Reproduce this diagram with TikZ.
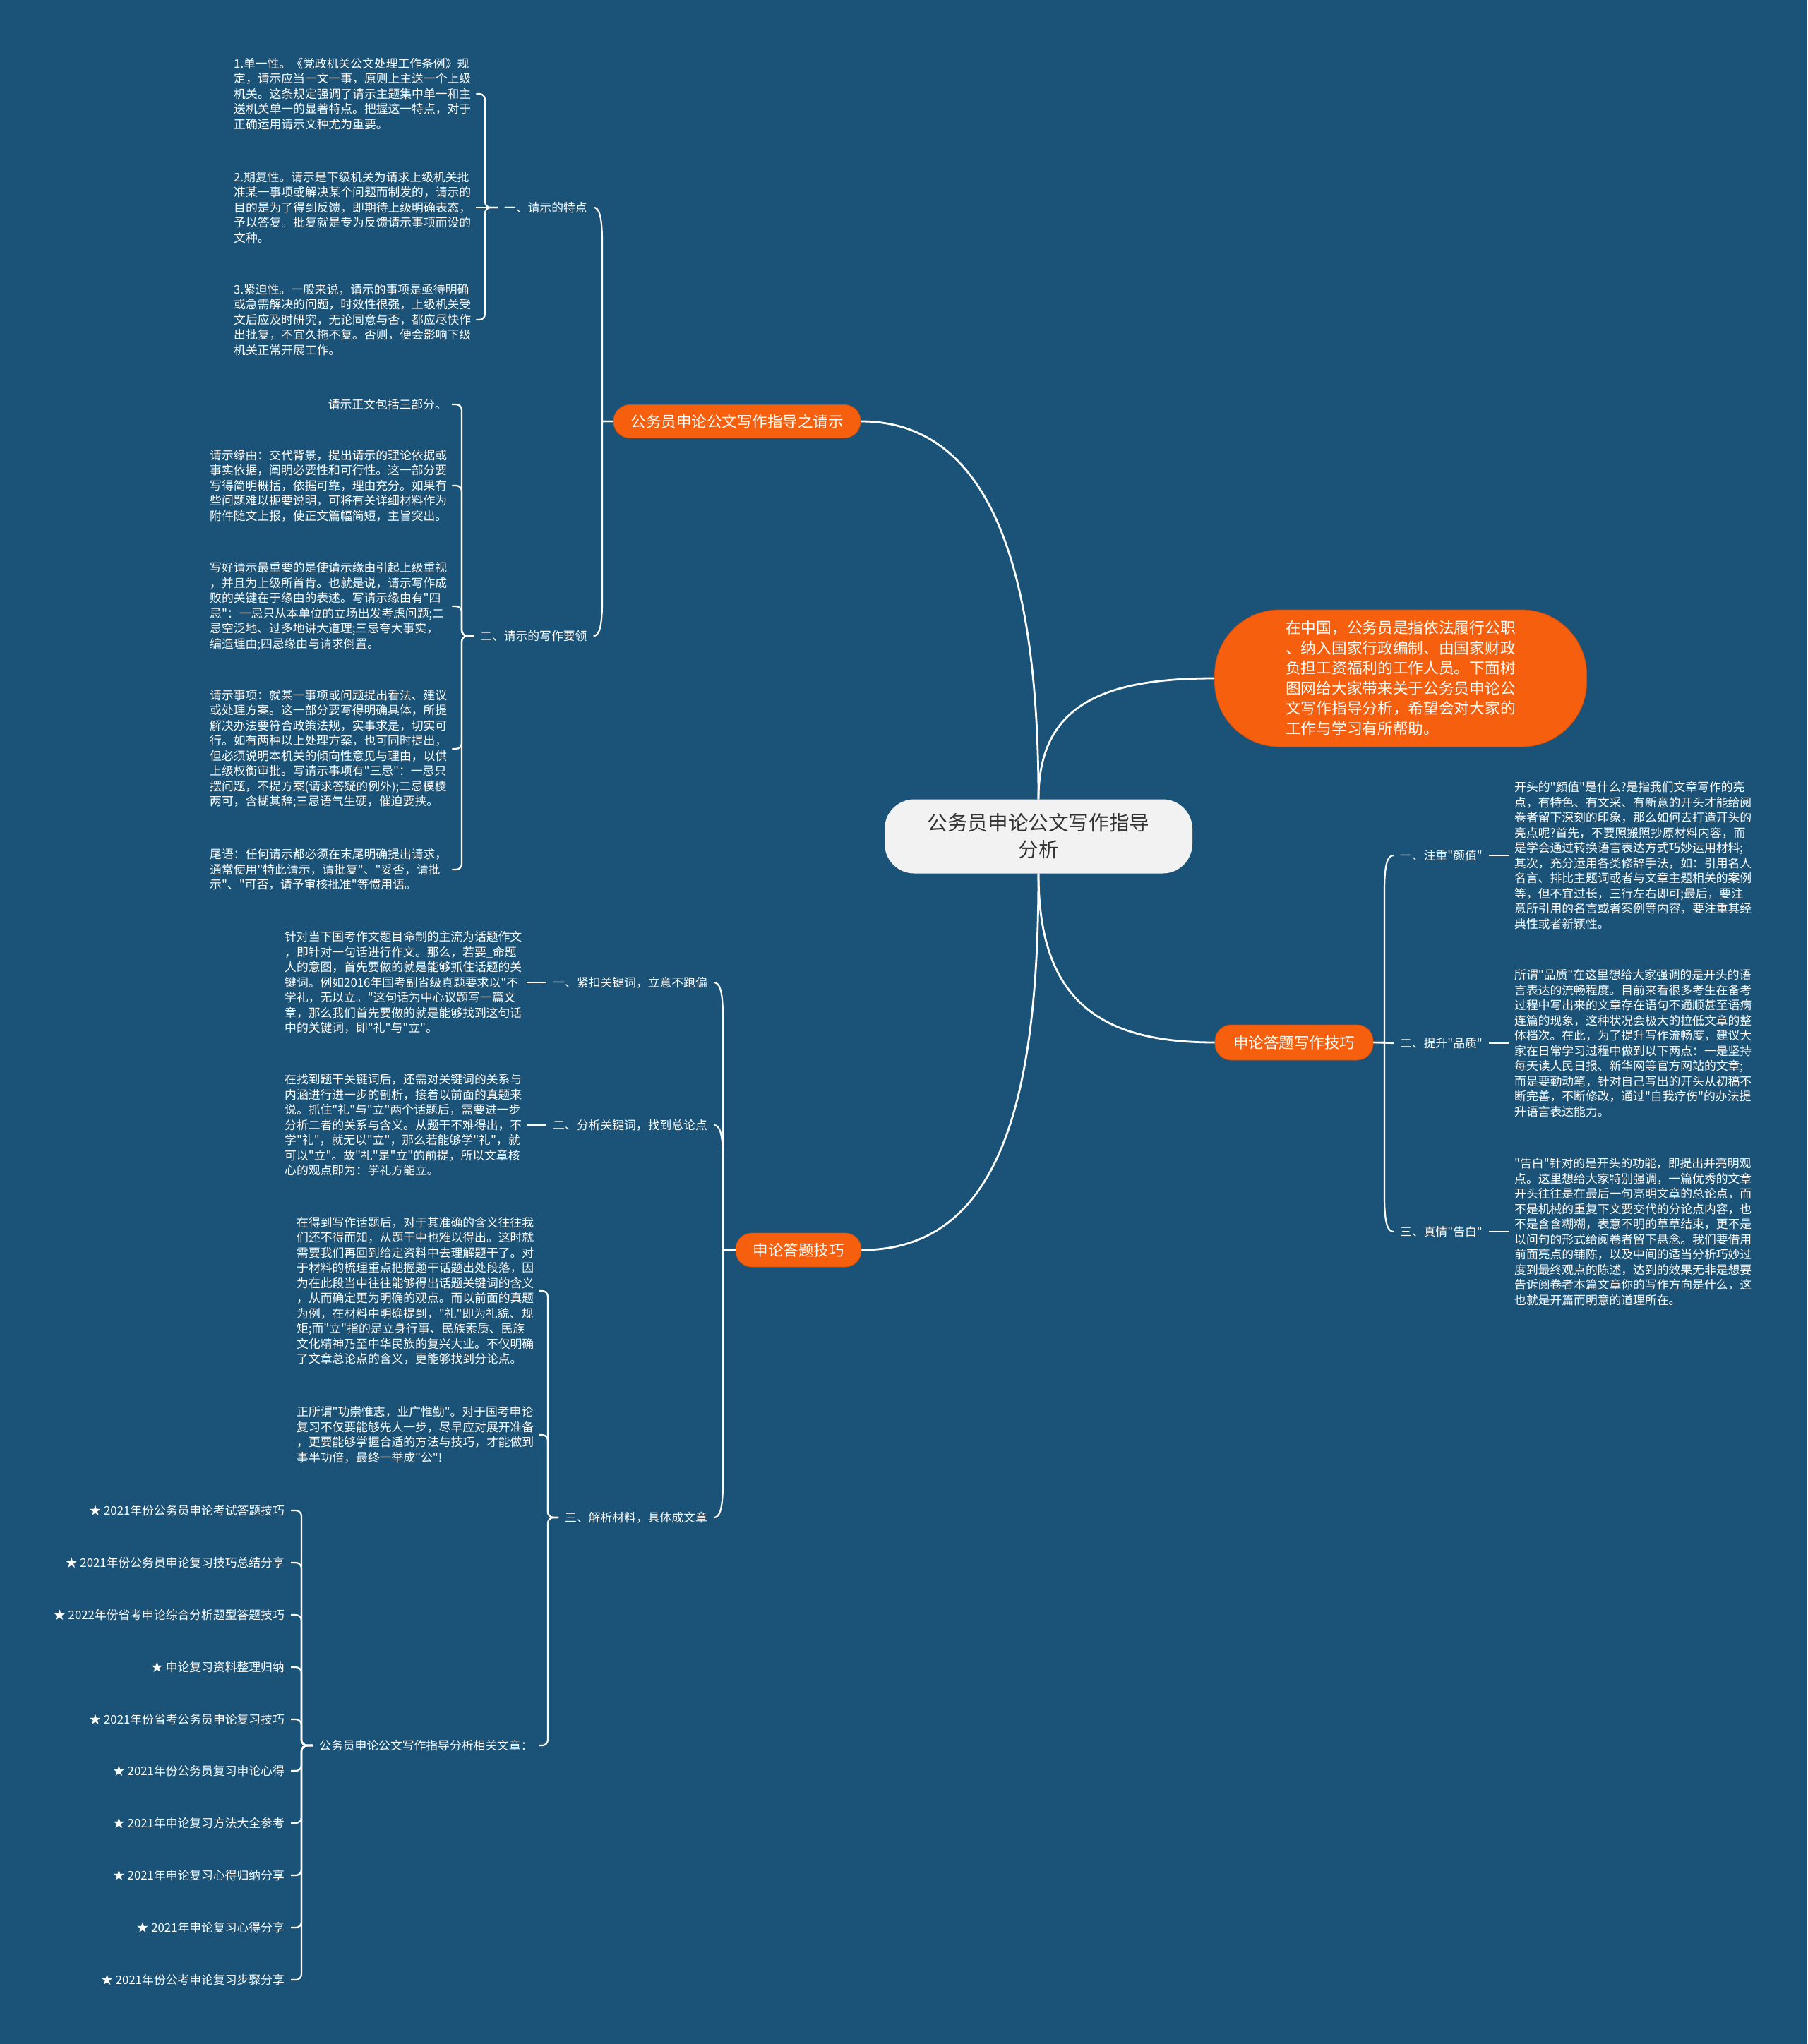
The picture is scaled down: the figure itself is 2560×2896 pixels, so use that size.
\documentclass[tikz,border=0pt]{standalone}
\usepackage{fontspec}
\setmainfont{Noto Sans CJK SC}[Ligatures=TeXOff]
\definecolor{bg}{HTML}{1A5377}
\definecolor{org}{HTML}{F65F0E}
\definecolor{ctr}{HTML}{F2F2F2}
\definecolor{ctxt}{HTML}{333333}
\tikzset{
  conn/.style={draw=white, line width=2.2pt},
  mainconn/.style={draw=white, line width=2.8pt},
  brk/.style={draw=white, line width=2.2pt, rounded corners=8pt},
  txt/.style={text=white, font=\fontsize{16.8pt}{21.5pt}\selectfont, align=left, inner xsep=7pt, inner ysep=2pt, anchor=west},
  lbl/.style={text=white, font=\fontsize{16.8pt}{21.5pt}\selectfont, inner xsep=9pt, inner ysep=2pt},
  topic/.style={fill=org, draw=org!85!black, line width=0.8pt, text=white, font=\fontsize{21.5pt}{26pt}\selectfont, rounded corners=23pt, inner sep=0pt},
}
\begin{document}
\begin{tikzpicture}[x=1pt,y=-1pt]
\useasboundingbox (0,0) rectangle (2560,2896);
\fill[bg] (0,0) rectangle (2560,2896);

% ---------- center and main topics ----------
\node[fill=ctr, text=ctxt, rounded corners=42pt, minimum width=436pt, minimum height=105pt, align=center, inner sep=0pt,
  font=\fontsize{28.6pt}{38pt}\selectfont] (T) at (1471,1185) {公务员申论公文写作指导\\分析};
\node[fill=org, draw=org!85!black, line width=0.8pt, rounded corners=92pt, minimum width=527pt, minimum height=194pt, inner sep=0pt,
  text=white, align=left, font=\fontsize{21.7pt}{28.5pt}\selectfont] (T0) at (1984,961)
  {在中国，公务员是指依法履行公职\\、纳入国家行政编制、由国家财政\\负担工资福利的工作人员。下面树\\图网给大家带来关于公务员申论公\\文写作指导分析，希望会对大家的\\工作与学习有所帮助。};
\node[topic, minimum width=350pt, minimum height=47pt] (T1) at (1044,597) {公务员申论公文写作指导之请示};
\node[topic, minimum width=178pt, minimum height=48pt] (T2) at (1131,1771) {申论答题技巧};
\node[topic, minimum width=224pt, minimum height=50pt] (T3) at (1833,1477) {申论答题写作技巧};

\draw[mainconn] (T.north) .. controls (1471,800) and (1400,597) .. (T1.east);
\draw[mainconn] (T.north) .. controls (1471,1000) and (1560,961) .. (T0.west);
\draw[mainconn] (T.south) .. controls (1471,1550) and (1420,1771) .. (T2.east);
\draw[mainconn] (T.south) .. controls (1471,1420) and (1560,1477) .. (T3.west);

% ---------- branch 1: 请示 ----------
\node[lbl, anchor=west] (LA1) at (705,294) {一、请示的特点};
\node[lbl, anchor=west] (LB) at (671,901) {二、请示的写作要领};

\node[txt] (A1) at (324,133) {1.单一性。《党政机关公文处理工作条例》规\\定，请示应当一文一事，原则上主送一个上级\\机关。这条规定强调了请示主题集中单一和主\\送机关单一的显著特点。把握这一特点，对于\\正确运用请示文种尤为重要。};
\node[txt] (A2) at (324,294) {2.期复性。请示是下级机关为请求上级机关批\\准某一事项或解决某个问题而制发的，请示的\\目的是为了得到反馈，即期待上级明确表态，\\予以答复。批复就是专为反馈请示事项而设的\\文种。};
\node[txt] (A3) at (324,453) {3.紧迫性。一般来说，请示的事项是亟待明确\\或急需解决的问题，时效性很强，上级机关受\\文后应及时研究，无论同意与否，都应尽快作\\出批复，不宜久拖不复。否则，便会影响下级\\机关正常开展工作。};

\node[txt, anchor=east] (B0) at (640,573) {请示正文包括三部分。};
\node[txt] (B1) at (290,688) {请示缘由：交代背景，提出请示的理论依据或\\事实依据，阐明必要性和可行性。这一部分要\\写得简明概括，依据可靠，理由充分。如果有\\些问题难以扼要说明，可将有关详细材料作为\\附件随文上报，使正文篇幅简短，主旨突出。};
\node[txt] (B2) at (290,859) {写好请示最重要的是使请示缘由引起上级重视\\，并且为上级所首肯。也就是说，请示写作成\\败的关键在于缘由的表述。写请示缘由有"四\\忌"：一忌只从本单位的立场出发考虑问题;二\\忌空泛地、过多地讲大道理;三忌夸大事实，\\编造理由;四忌缘由与请求倒置。};
\node[txt] (B3) at (290,1061) {请示事项：就某一事项或问题提出看法、建议\\或处理方案。这一部分要写得明确具体，所提\\解决办法要符合政策法规，实事求是，切实可\\行。如有两种以上处理方案，也可同时提出，\\但必须说明本机关的倾向性意见与理由，以供\\上级权衡审批。写请示事项有"三忌"：一忌只\\摆问题，不提方案(请求答疑的例外);二忌模棱\\两可，含糊其辞;三忌语气生硬，催迫要挟。};
\node[txt] (B4) at (290,1232) {尾语：任何请示都必须在末尾明确提出请求，\\通常使用"特此请示，请批复"、"妥否，请批\\示"、"可否，请予审核批准"等惯用语。};

\draw[conn] (T1.west) -- (853,597) -- (853,344) .. controls (853,304) and (848,294) .. (LA1.east);
\draw[conn] (T1.west) -- (853,597) -- (853,851) .. controls (853,891) and (848,901) .. (LB.east);

\draw[brk] (LA1.west) -- (687,294) |- (A1.east);
\draw[conn] (LA1.west) -- (A2.east);
\draw[brk] (LA1.west) -- (687,294) |- (A3.east);

\draw[brk] (LB.west) -- (654,901) |- (B0.east);
\draw[brk] (LB.west) -- (654,901) |- (B1.east);
\draw[brk] (LB.west) -- (654,901) |- (B2.east);
\draw[brk] (LB.west) -- (654,901) |- (B3.east);
\draw[brk] (LB.west) -- (654,901) |- (B4.east);

% ---------- branch 2: 申论答题技巧 ----------
\node[lbl, anchor=east] (LD1) at (1011,1392) {一、紧扣关键词，立意不跑偏};
\node[lbl, anchor=east] (LD2) at (1011,1594) {二、分析关键词，找到总论点};
\node[lbl, anchor=east] (LD3) at (1011,2150) {三、解析材料，具体成文章};

\node[txt] (D1) at (396,1392) {针对当下国考作文题目命制的主流为话题作文\\，即针对一句话进行作文。那么，若要\_命题\\人的意图，首先要做的就是能够抓住话题的关\\键词。例如2016年国考副省级真题要求以"不\\学礼，无以立。"这句话为中心议题写一篇文\\章，那么我们首先要做的就是能够找到这句话\\中的关键词，即"礼"与"立"。};
\node[txt] (D2) at (396,1594) {在找到题干关键词后，还需对关键词的关系与\\内涵进行进一步的剖析，接着以前面的真题来\\说。抓住"礼"与"立"两个话题后，需要进一步\\分析二者的关系与含义。从题干不难得出，不\\学"礼"，就无以"立"，那么若能够学"礼"，就\\可以"立"。故"礼"是"立"的前提，所以文章核\\心的观点即为：学礼方能立。};
\node[txt] (D3) at (413,1829) {在得到写作话题后，对于其准确的含义往往我\\们还不得而知，从题干中也难以得出。这时就\\需要我们再回到给定资料中去理解题干了。对\\于材料的梳理重点把握题干话题出处段落，因\\为在此段当中往往能够得出话题关键词的含义\\，从而确定更为明确的观点。而以前面的真题\\为例，在材料中明确提到，"礼"即为礼貌、规\\矩;而"立"指的是立身行事、民族素质、民族\\文化精神乃至中华民族的复兴大业。不仅明确\\了文章总论点的含义，更能够找到分论点。};
\node[txt] (D4) at (413,2033) {正所谓"功崇惟志，业广惟勤"。对于国考申论\\复习不仅要能够先人一步，尽早应对展开准备\\，更要能够掌握合适的方法与技巧，才能做到\\事半功倍，最终一举成"公"!};
\node[lbl, anchor=west] (D5) at (443,2473) {公务员申论公文写作指导分析相关文章：};

\node[lbl, anchor=east] (S1) at (412,2140) {★ 2021年份公务员申论考试答题技巧};
\node[lbl, anchor=east] (S2) at (412,2214) {★ 2021年份公务员申论复习技巧总结分享};
\node[lbl, anchor=east] (S3) at (412,2288) {★ 2022年份省考申论综合分析题型答题技巧};
\node[lbl, anchor=east] (S4) at (412,2362) {★ 申论复习资料整理归纳};
\node[lbl, anchor=east] (S5) at (412,2436) {★ 2021年份省考公务员申论复习技巧};
\node[lbl, anchor=east] (S6) at (412,2509) {★ 2021年份公务员复习申论心得};
\node[lbl, anchor=east] (S7) at (412,2583) {★ 2021年申论复习方法大全参考};
\node[lbl, anchor=east] (S8) at (412,2657) {★ 2021年申论复习心得归纳分享};
\node[lbl, anchor=east] (S9) at (412,2731) {★ 2021年申论复习心得分享};
\node[lbl, anchor=east] (S10) at (412,2805) {★ 2021年份公考申论复习步骤分享};

\draw[conn] (T2.west) -- (1024,1771) -- (1024,1442) .. controls (1024,1402) and (1019,1392) .. (LD1.east);
\draw[conn] (T2.west) -- (1024,1771) -- (1024,1644) .. controls (1024,1604) and (1019,1594) .. (LD2.east);
\draw[conn] (T2.west) -- (1024,1771) -- (1024,2100) .. controls (1024,2140) and (1019,2150) .. (LD3.east);

\draw[conn] (D1.east) -- (LD1.west);
\draw[conn] (D2.east) -- (LD2.west);

\draw[brk] (LD3.west) -- (776,2150) |- (D3.east);
\draw[brk] (LD3.west) -- (776,2150) |- (D4.east);
\draw[brk] (LD3.west) -- (776,2150) |- (D5.east);

\foreach \s in {S1,S2,S3,S4,S5,S6,S7,S8,S9,S10}
  \draw[brk] (D5.west) -- (427,2473) |- (\s.east);

% ---------- branch 3: 申论答题写作技巧 ----------
\node[lbl, anchor=west] (LE1) at (1974,1212) {一、注重"颜值"};
\node[lbl, anchor=west] (LE2) at (1974,1478) {二、提升"品质"};
\node[lbl, anchor=west] (LE3) at (1974,1745) {三、真情"告白"};

\node[txt] (E1) at (2138,1212) {开头的"颜值"是什么?是指我们文章写作的亮\\点，有特色、有文采、有新意的开头才能给阅\\卷者留下深刻的印象，那么如何去打造开头的\\亮点呢?首先，不要照搬照抄原材料内容，而\\是学会通过转换语言表达方式巧妙运用材料;\\其次，充分运用各类修辞手法，如：引用名人\\名言、排比主题词或者与文章主题相关的案例\\等，但不宜过长，三行左右即可;最后，要注\\意所引用的名言或者案例等内容，要注重其经\\典性或者新颖性。};
\node[txt] (E2) at (2138,1478) {所谓"品质"在这里想给大家强调的是开头的语\\言表达的流畅程度。目前来看很多考生在备考\\过程中写出来的文章存在语句不通顺甚至语病\\连篇的现象，这种状况会极大的拉低文章的整\\体档次。在此，为了提升写作流畅度，建议大\\家在日常学习过程中做到以下两点：一是坚持\\每天读人民日报、新华网等官方网站的文章;\\而是要勤动笔，针对自己写出的开头从初稿不\\断完善，不断修改，通过"自我疗伤"的办法提\\升语言表达能力。};
\node[txt] (E3) at (2138,1745) {"告白"针对的是开头的功能，即提出并亮明观\\点。这里想给大家特别强调，一篇优秀的文章\\开头往往是在最后一句亮明文章的总论点，而\\不是机械的重复下文要交代的分论点内容，也\\不是含含糊糊，表意不明的草草结束，更不是\\以问句的形式给阅卷者留下悬念。我们要借用\\前面亮点的铺陈，以及中间的适当分析巧妙过\\度到最终观点的陈述，达到的效果无非是想要\\告诉阅卷者本篇文章你的写作方向是什么，这\\也就是开篇而明意的道理所在。};

\draw[conn] (T3.east) -- (1961,1477) -- (1961,1262) .. controls (1961,1222) and (1966,1212) .. (LE1.west);
\draw[conn] (T3.east) -- (LE2.west);
\draw[conn] (T3.east) -- (1961,1477) -- (1961,1695) .. controls (1961,1735) and (1966,1745) .. (LE3.west);

\draw[conn] (LE1.east) -- (E1.west);
\draw[conn] (LE2.east) -- (E2.west);
\draw[conn] (LE3.east) -- (E3.west);
\end{tikzpicture}
\end{document}
